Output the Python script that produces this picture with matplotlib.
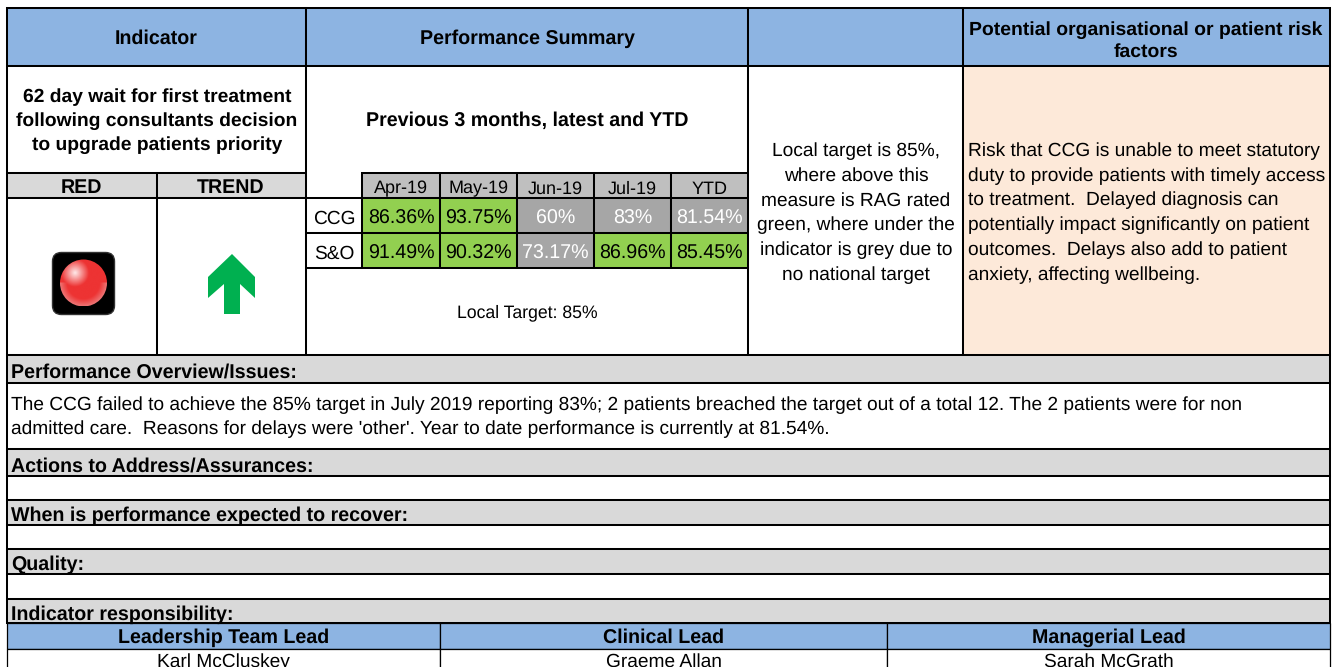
import numpy as np
import matplotlib
matplotlib.use('Agg')
import matplotlib.pyplot as plt
from matplotlib.patches import Rectangle, FancyBboxPatch, Circle, Polygon

plt.rcParams['font.family'] = ['Liberation Sans', 'DejaVu Sans']
plt.rcParams['text.hinting'] = 'none'

BLUE = '#8db4e2'
GREY = '#d9d9d9'
HEAD_GREY = '#bfbfbf'
RAG_GREY = '#a6a6a6'
GREEN = '#92d050'
PEACH = '#fde9d9'
ARROW = '#00b050'
BODY = 13.8
BOLD = 14.1

months = ['Apr-19', 'May-19', 'Jun-19', 'Jul-19', 'YTD']
ccg_values = ['86.36%', '93.75%', '60%', '83%', '81.54%']
so_values = ['91.49%', '90.32%', '73.17%', '86.96%', '85.45%']
ccg_rag = ['g', 'g', 'x', 'x', 'x']
so_rag = ['g', 'g', 'x', 'g', 'g']
leads = ['Leadership Team Lead', 'Clinical Lead', 'Managerial Lead']
lead_names = ['Karl McCluskey', 'Graeme Allan', 'Sarah McGrath']
band_titles = ['Performance Overview/Issues:', 'Actions to Address/Assurances:',
               'When is performance expected to recover:', 'Quality:', 'Indicator responsibility:']

fig = plt.figure(figsize=(13.38, 6.67), dpi=100)
ax = fig.add_axes([0, 0, 1, 1])
ax.axis('off')


def box(x0, y0, x1, y1, color='white', lw=1.45):
  ax.add_patch(Rectangle((x0, y0), x1 - x0, y1 - y0, facecolor=color, edgecolor='black', linewidth=lw, zorder=2))


def label(x, y, s, bold=False, size=None, ha='center', color='black', spacing=1.2):
  if size is None:
    size = BOLD if bold else BODY
  ax.text(x, y, s, fontsize=size, ha=ha, va='center_baseline', color=color, zorder=5,
          fontweight='bold' if bold else 'normal', linespacing=spacing)


# header row
left, right = 7, 1330
for x0, x1, title in [(7, 306, 'Indicator'), (306, 748, 'Performance Summary'), (748, 963, '')]:
  box(x0, 8, x1, 66, BLUE)
  label((x0 + x1) / 2, 37, title, bold=True)
box(963, 8, right, 66, BLUE)
label(1146, 37, 'Potential organisational or patient risk\nfactors', bold=True, size=13.95, spacing=1.32)

# second row
box(7, 66, 306, 173)
label(157, 116, '62 day wait for first treatment\nfollowing consultants decision\nto upgrade patients priority', bold=True, size=13.9, spacing=1.44)
box(306, 66, 748, 355)
label(527, 119, 'Previous 3 months, latest and YTD', bold=True)
label(527, 311, 'Local Target: 85%', size=12.7)
box(748, 66, 963, 355)
label(856, 207.5, 'Local target is 85%,\nwhere above this\nmeasure is RAG rated\ngreen, where under the\nindicator is grey due to\nno national target', spacing=1.52)
box(963, 66, right, 355, PEACH)
label(968, 207.5, 'Risk that CCG is unable to meet statutory\nduty to provide patients with timely access\nto treatment.  Delayed diagnosis can\npotentially impact significantly on patient\noutcomes.  Delays also add to patient\nanxiety, affecting wellbeing.', ha='left', spacing=1.52)

# RED / TREND
box(7, 173, 157, 198, GREY)
box(157, 173, 306, 198, GREY)
label(81, 186, 'RED', bold=True)
label(231, 186, 'TREND', bold=True)
box(7, 198, 157, 355)
box(157, 198, 306, 355)

# traffic light icon
ax.add_patch(FancyBboxPatch((52.5, 252.5), 62, 62, boxstyle='round,pad=0,rounding_size=9', facecolor='black', edgecolor='#333333', linewidth=1, zorder=3))
gy, gx = np.mgrid[-1:1:100j, -1:1:100j]
glow = np.clip(1 - np.hypot(gx + 0.36, gy + 0.42) / 0.6, 0, 1)
rim = np.clip(np.hypot(gx, gy) - 0.7, 0, 0.3) / 0.3 * (gy > 0)
ball = np.zeros((100, 100, 3))
ball[..., 0] = 0.93 + 0.07 * glow
ball[..., 1] = 0.2 + 0.72 * glow + 0.25 * rim
ball[..., 2] = 0.2 + 0.72 * glow + 0.25 * rim
img = ax.imshow(ball, extent=(60, 107, 306.5, 259.5), zorder=4, interpolation='bilinear')
img.set_clip_path(Circle((83.5, 283), 23.5, transform=ax.transData))

# trend arrow
ax.add_patch(Polygon([(232, 254), (255, 277), (255, 298), (240, 284), (240, 314), (224, 314), (224, 284), (208, 298), (208, 277)],
                     closed=True, facecolor=ARROW, edgecolor='none', zorder=4))

# performance table
col_x = [362, 440, 517, 594, 671, 748]
row_y = [198, 233, 268]
for i, m in enumerate(months):
  box(col_x[i], 173, col_x[i + 1], 198, HEAD_GREY)
  label((col_x[i] + col_x[i + 1]) / 2, 187, m, size=13)
for r, (name, values, rag) in enumerate([('CCG', ccg_values, ccg_rag), ('S&O', so_values, so_rag)]):
  box(306, row_y[r], 362, row_y[r + 1])
  label(334, (row_y[r] + row_y[r + 1]) / 2 + 1, name)
  for i, v in enumerate(values):
    green = rag[i] == 'g'
    box(col_x[i], row_y[r], col_x[i + 1], row_y[r + 1], GREEN if green else RAG_GREY)
    label((col_x[i] + col_x[i + 1]) / 2, (row_y[r] + row_y[r + 1]) / 2 + 1, v,
          size=14.1, color='black' if green else 'white')

# full width bands
band_rows = [(355, 383, 449), (449, 476, 500), (500, 525, 549), (549, 574, 599), (599, 623, 623)]
for title, (y0, y1, y2) in zip(band_titles, band_rows):
  box(left, y0, right, y1, GREY)
  label(11, (y0 + y1) / 2 + 1.5, title, bold=True, ha='left', size=14.1)
  if y2 > y1:
    box(left, y1, right, y2)
label(11, 412.5, "The CCG failed to achieve the 85% target in July 2019 reporting 83%; 2 patients breached the target out of a total 12. The 2 patients were for non\nadmitted care.  Reasons for delays were 'other'. Year to date performance is currently at 81.54%.", ha='left', spacing=1.45)

# responsibility
lead_x = [7, 440, 887, 1330]
for i in range(3):
  box(lead_x[i], 623, lead_x[i + 1], 649, BLUE, lw=0.9)
  label((lead_x[i] + lead_x[i + 1]) / 2, 636, leads[i], bold=True)
  box(lead_x[i], 649, lead_x[i + 1], 680, 'white', lw=0.9)
  label((lead_x[i] + lead_x[i + 1]) / 2, 660, lead_names[i])

ax.set_xlim(0, 1338)
ax.set_ylim(667, 0)
ax.set_aspect('auto')
fig.savefig('out.png', dpi=100)
